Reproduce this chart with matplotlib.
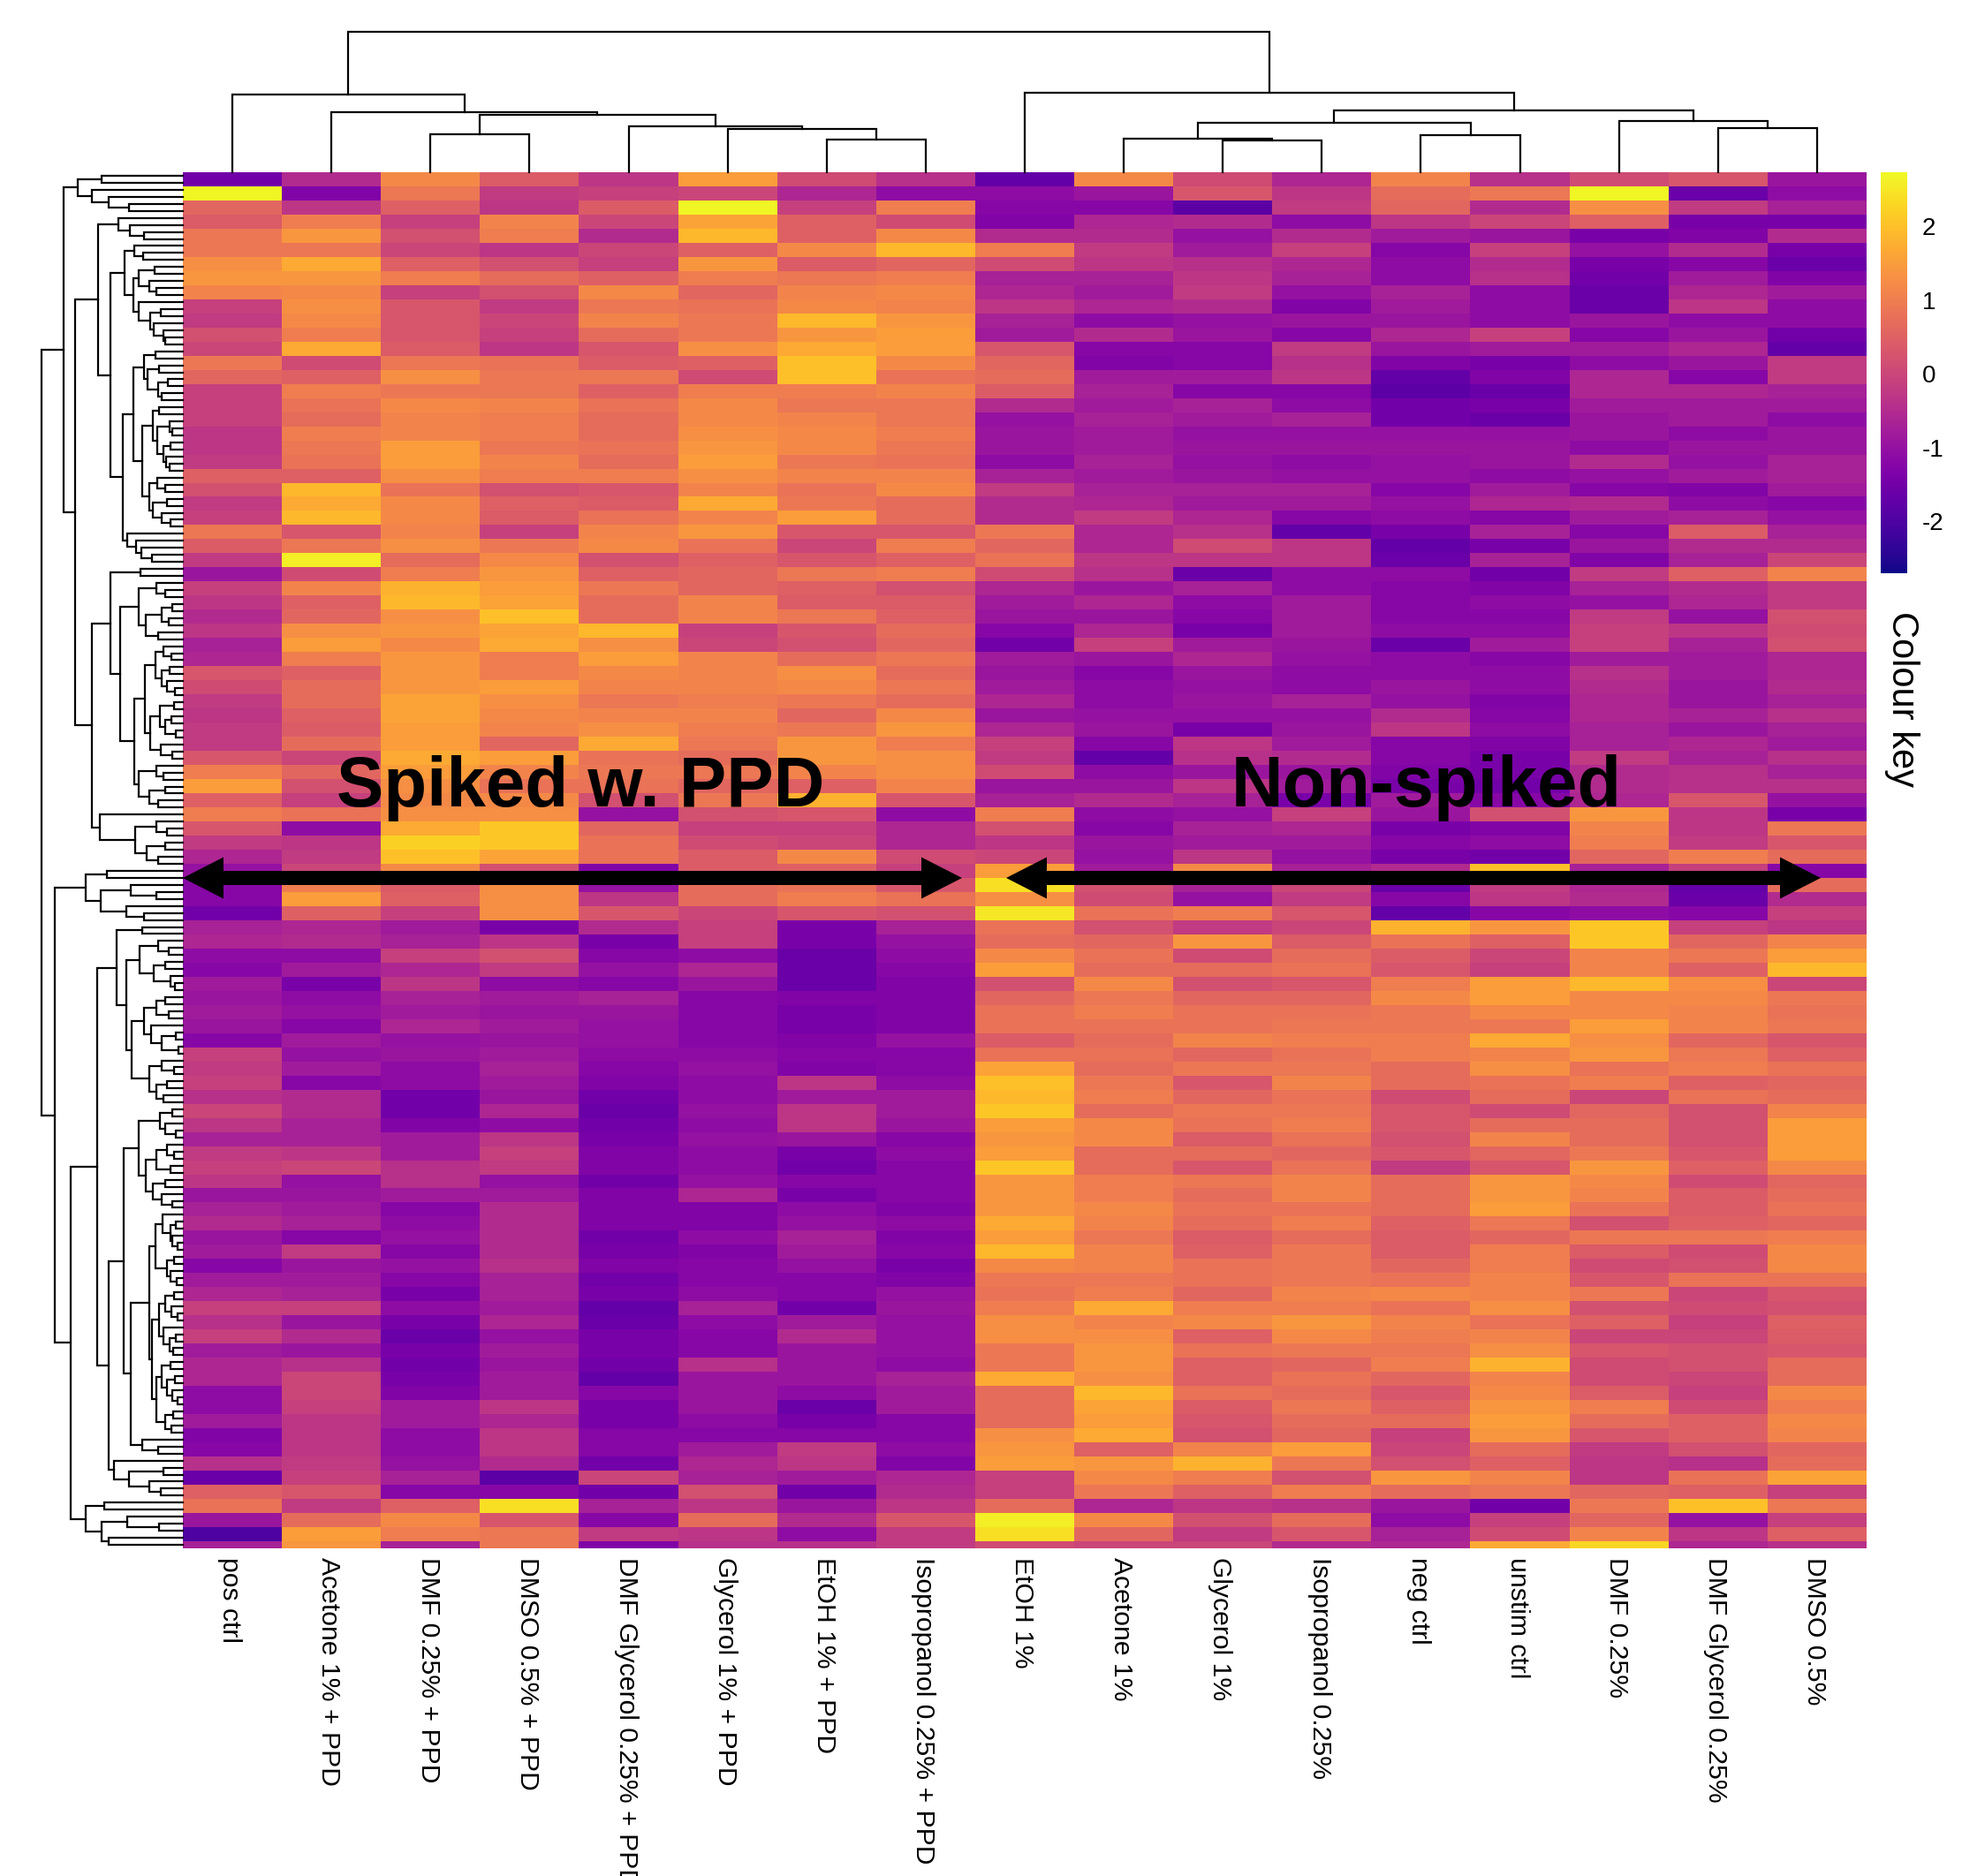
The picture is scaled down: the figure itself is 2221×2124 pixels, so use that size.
import numpy as np
import matplotlib
matplotlib.use("Agg")
import matplotlib.pyplot as plt
from matplotlib.patches import FancyArrow
from matplotlib.cm import ScalarMappable
from matplotlib.colors import Normalize

W, H = 2221, 2124
plt.rcParams['font.family'] = ['Liberation Sans', 'DejaVu Sans']

samples = ["pos ctrl", "Acetone 1% + PPD", "DMF 0.25% + PPD", "DMSO 0.5% + PPD",
           "DMF Glycerol 0.25% + PPD", "Glycerol 1% + PPD", "EtOH 1% + PPD",
           "Isopropanol 0.25% + PPD", "EtOH 1%", "Acetone 1%", "Glycerol 1%",
           "Isopropanol 0.25%", "neg ctrl", "unstim ctrl", "DMF 0.25%",
           "DMF Glycerol 0.25%", "DMSO 0.5%"]

# z-scores x10, one line is about two genes
upper_rows = [
    [-15,-5,12,4,-3,15,1,-4,-17,12,1,-6,11,-4,1,3,-9],
    [27,-13,9,-2,-1,0,-6,-11,-11,-9,3,-3,7,9,27,-16,-11],
    [6,-3,5,-3,4,27,-1,10,-12,-12,-18,-2,6,-5,13,-2,-7],
    [4,10,-1,11,0,16,5,1,-13,-6,-5,-11,-3,0,5,-14,-14],
    [9,14,2,10,-5,19,5,12,-5,-5,-10,-5,-8,-9,-14,-13,-5],
    [9,9,0,-3,0,5,12,19,10,-2,-8,-1,-12,-1,-10,-5,-14],
    [13,17,5,2,-1,14,4,6,1,-3,-4,-6,-11,-5,-14,-12,-16],
    [14,14,10,7,5,10,9,10,-7,-7,-3,-7,-11,-4,-15,-8,-13],
    [11,12,-1,2,12,6,11,12,-6,-8,-2,-10,-7,-11,-16,-6,-8],
    [-1,13,3,-2,9,8,12,11,-3,-6,-5,-13,-8,-11,-16,-3,-11],
    [-2,12,3,0,11,9,19,14,-7,-11,-10,-9,-9,-11,-9,-11,-11],
    [2,10,3,-1,7,9,14,15,-8,-5,-9,-12,-6,-1,-12,-9,-15],
    [0,17,4,-3,3,13,17,15,3,-12,-12,-2,-9,-8,-8,-6,-17],
    [9,1,9,8,4,5,20,12,6,-13,-12,-4,-13,-14,-11,-9,-2],
    [6,5,13,9,9,1,20,8,7,-8,-8,-3,-17,-13,-6,-12,-2],
    [-1,10,9,9,5,10,10,11,4,-7,-12,-12,-18,-16,-6,-6,-7],
    [-1,8,12,11,8,12,9,9,-5,-8,-7,-11,-15,-14,-8,-8,-8],
    [-1,7,11,10,7,12,11,9,-10,-7,-8,-7,-15,-16,-9,-8,-11],
    [-3,10,11,10,7,13,12,10,-9,-8,-10,-10,-10,-10,-9,-11,-9],
    [-3,9,15,9,8,14,12,9,-9,-8,-9,-9,-9,-9,-11,-9,-9],
    [-2,8,15,11,7,15,9,8,-11,-7,-10,-11,-10,-9,-5,-10,-7],
    [5,5,13,10,10,13,11,11,-7,-8,-9,-10,-10,-11,-10,-8,-7],
    [2,19,8,2,3,11,8,12,-2,-7,-7,-7,-12,-8,-12,-13,-8],
    [-2,17,12,5,4,17,9,7,-5,-6,-8,-8,-10,-6,-5,-11,-12],
    [-1,19,12,4,8,11,15,7,-5,-2,-6,-12,-11,-12,-8,-7,-10],
    [9,3,11,-1,11,14,3,3,9,-6,-4,-17,-14,-7,-12,4,-7],
    [4,9,13,9,12,8,0,10,6,-6,1,-3,-17,-14,-9,-5,-5],
    [-2,26,7,12,2,5,3,5,8,-3,-3,-3,-16,-7,-13,-7,0],
    [-9,1,10,14,5,6,9,10,1,-4,-16,-11,-11,-15,-2,5,11],
    [-1,11,18,15,9,6,5,2,-6,-9,-7,-11,-12,-13,-7,-5,-2],
    [-3,5,19,16,7,11,4,4,-8,-6,-11,-8,-12,-11,-10,-6,-2],
    [-5,6,13,20,7,11,9,5,-9,-9,-12,-8,-12,-12,-2,-10,2],
    [-3,13,14,16,19,-1,3,7,-12,-6,-14,-8,-11,-11,-1,-3,1],
    [-7,15,12,17,13,0,2,6,-15,-1,-8,-9,-16,-8,-1,-7,2],
    [-6,10,14,10,15,11,7,9,-8,-9,-6,-10,-11,-12,-8,-8,-6],
    [3,5,14,10,12,11,13,7,-9,-12,-9,-11,-11,-11,-4,-8,-6],
    [1,7,14,15,11,11,12,9,-8,-11,-10,-11,-9,-11,-5,-9,-5],
    [-2,7,16,13,9,10,9,7,-6,-11,-9,-7,-10,-13,-6,-9,-7],
    [-3,5,16,12,11,11,6,12,-9,-10,-10,-10,-5,-12,-6,-7,-4],
    [-2,4,15,11,13,10,9,14,-6,-9,-14,-9,-3,-11,-7,-9,-7],
    [-2,7,15,6,17,9,14,10,-1,-12,-3,-8,-12,-13,-7,-6,-8],
    [3,0,17,15,8,7,14,13,-2,-17,-4,-5,-12,-14,-2,-7,-4],
    [10,6,15,11,9,9,11,13,1,-11,-9,-9,-13,-14,-5,-4,-7],
    [15,2,13,8,8,6,5,11,-9,-9,-3,-8,-14,-15,-5,-4,-4],
    [5,-1,12,12,2,9,18,3,-7,-5,-7,-14,-8,-12,-6,3,-10],
    [10,8,13,13,-10,2,3,-11,10,-11,-10,-1,-9,2,14,-3,-14],
    [3,-11,17,21,6,-1,-1,-6,2,-12,-7,-6,-14,-13,11,-3,9],
    [-2,-3,22,21,8,1,0,-6,-3,-9,-8,-8,-12,-11,10,-2,3],
    [-6,-2,20,16,8,4,12,1,0,-10,-3,-10,-14,-15,6,10,7],
]
lower_rows = [
    [-10,0,12,2,-13,4,5,-1,15,-8,12,-7,-5,20,-7,-1,-12],
    [-12,10,4,13,-10,7,8,3,24,2,-7,0,-16,-2,-6,-17,7],
    [-12,15,5,13,-3,7,10,8,13,1,-10,-2,-12,-3,-5,-16,-5],
    [-15,5,-1,13,3,0,3,2,25,8,10,3,-17,-12,-11,-12,-1],
    [-7,-6,-8,-14,-5,-1,-14,-7,8,2,-2,0,18,14,21,-1,-3],
    [-6,-5,-7,-3,-14,-1,-14,-10,7,6,14,4,8,5,21,6,11],
    [-11,-11,-1,2,-12,-11,-16,-11,12,8,1,7,4,0,11,9,15],
    [-12,-8,-6,-2,-10,-6,-16,-12,15,7,7,8,3,-1,11,5,19],
    [-8,-14,-3,-11,-12,-9,-16,-13,2,12,2,3,10,15,19,13,0],
    [-9,-11,-7,-8,-7,-12,-13,-13,6,9,6,6,12,15,12,12,9],
    [-8,-10,-8,-9,-9,-12,-14,-13,8,10,8,8,9,12,12,11,8],
    [-9,-12,-6,-8,-10,-12,-14,-13,8,8,8,9,9,9,15,11,9],
    [-12,-8,-10,-9,-10,-12,-13,-10,4,7,11,10,10,17,13,6,3],
    [-1,-10,-9,-8,-11,-11,-12,-12,8,8,6,8,10,11,14,9,5],
    [-2,-8,-11,-7,-12,-10,-13,-12,16,7,9,9,7,13,8,10,8],
    [-1,-12,-11,-8,-13,-11,-3,-11,20,9,3,11,7,8,10,5,6],
    [-4,-5,-15,-9,-15,-11,-8,-8,19,10,6,8,1,7,0,8,7],
    [0,-5,-15,-6,-16,-10,-3,-8,21,7,9,9,3,1,6,2,11],
    [-3,-7,-13,-11,-15,-11,-3,-9,15,12,8,10,3,7,7,2,15],
    [-7,-7,-8,-3,-14,-10,-9,-12,14,12,4,8,2,11,7,2,15],
    [-2,-3,-8,-1,-13,-11,-14,-11,15,7,7,6,3,6,9,3,15],
    [-1,0,-4,-2,-13,-11,-15,-12,21,7,3,8,-2,3,14,5,12],
    [-3,-10,-4,-10,-15,-10,-12,-12,14,10,9,11,7,14,12,1,6],
    [-9,-9,-8,-8,-13,-6,-14,-12,14,10,7,11,7,14,11,4,7],
    [-7,-8,-12,-5,-13,-13,-11,-13,14,12,8,8,7,15,8,4,8],
    [-5,-7,-11,-5,-13,-13,-10,-11,17,11,7,10,5,9,2,5,6],
    [-9,-12,-10,-5,-15,-11,-7,-13,15,9,4,7,4,6,9,9,10],
    [-8,-2,-12,-5,-14,-13,-8,-12,19,11,5,9,4,10,4,1,12],
    [-12,-9,-10,-4,-13,-12,-10,-14,12,11,8,9,6,10,1,2,12],
    [-8,-8,-12,-7,-15,-12,-12,-13,9,9,8,9,8,11,3,8,8],
    [-6,-7,-14,-7,-14,-11,-12,-10,8,10,6,11,12,11,9,0,3],
    [-1,-1,-11,-8,-17,-7,-15,-9,10,17,10,10,8,13,2,1,2],
    [-4,-9,-14,-6,-16,-11,-8,-10,13,11,12,14,11,8,5,-1,5],
    [-1,-5,-16,-10,-14,-12,-5,-10,13,13,5,12,10,11,0,0,4],
    [-8,-9,-14,-8,-14,-12,-9,-10,9,14,8,9,9,13,3,2,3],
    [-6,-4,-15,-9,-15,-4,-9,-11,9,14,5,6,10,18,1,2,7],
    [-6,0,-14,-8,-17,-9,-9,-7,17,13,5,8,6,11,1,0,7],
    [-11,0,-13,-8,-12,-9,-11,-8,7,19,8,7,3,12,4,-1,12],
    [-11,-1,-8,-3,-14,-9,-16,-8,7,16,4,9,5,14,10,1,10],
    [-8,-3,-8,-6,-14,-11,-14,-12,7,15,3,7,7,15,7,5,12],
    [-13,-3,-11,-3,-12,-12,-12,-12,13,17,2,6,-1,14,3,5,11],
    [-12,-3,-11,-3,-12,-8,-2,-11,14,5,11,15,0,7,-2,2,6],
    [-4,-2,-10,-5,-15,-6,-3,-13,15,14,18,9,2,5,-3,-4,7],
    [-16,-1,-7,-18,0,-7,-8,-6,-1,12,10,2,14,11,-3,8,16],
    [5,3,-12,-12,-15,2,-15,-5,-1,9,5,10,7,9,6,5,-1],
    [8,-2,5,24,-7,-3,-9,-3,7,-6,-3,-4,-9,-15,9,20,9],
    [-9,7,12,3,-12,7,-5,3,26,12,2,7,-11,-1,6,-10,-1],
    [-20,15,10,9,-2,-3,-11,-2,24,6,-2,3,-7,1,11,-3,5],
    [-7,14,-7,9,-13,-4,-4,-2,1,0,0,-5,-6,17,23,-6,-4],
]
z_scores = np.array(upper_rows + lower_rows) / 10.0
tick_values = [-2, -1, 0, 1, 2]
vmin, vmax = -2.7, 2.73

# dendrograms: (height in px, first child, second child), 0 is a leaf
col_tree = (159,
            (88, 0, (68, 0, (65, (43, 0, 0), (52, 0, (49, 0, (37, 0, 0)))))),
            (90, 0, (70, (56, (38, 0, (36, 0, 0)), (42, 0, 0)), (58, 0, (50, 0, 0)))))

top_a = (119, (92, 0, 0), (103, 0, (84, 0, (61, 0, 0))))
top_b = (73, 0, (60, 0, (44, 0, 0)))
top_c = (66, (55, 0, (45, 0, 0)),
         (56, (50, (32, 0, 0), (38, 0, (30, 0, 0))),
          (50, 0, (37, (25, 0, 0), (33, 0, (22, 0, (20, 0, 0)))))))
top_d = (44, (31, 0, 0), (40, (27, 0, 0), (28, (17, 0, 0), (24, 0, 0))))
top_e = (46, (34, (27, 0, 0), (29, (15, 0, (12, 0, 0)), (22, (14, 0, 0), (19, 0, (15, 0, 0))))),
         (38, (29, 0, (20, 0, 0)), (34, (18, 0, 0), (24, 0, (14, 0, 0)))))
top_f = (63, 0, (53, 0, (47, 0, (35, 0, 0))))
mid_a = (50, (30, 0, (20, 0, 0)), (42, (24, (12, 0, 0), (16, 0, 0)), (28, 0, 0)))
mid_b = (43, (31, (22, 0, (13, 0, 0)), (24, (15, 0, 0), (18, 0, (9, 0, 0)))),
         (37, (26, (10, 0, 0), (20, (13, 0, 0), (8, 0, 0))), (25, 0, (12, 0, 0))))
mid_c = (50, (30, 0, (22, 0, 0)), (38, (20, 0, 0), (28, 0, 0)))
mid_d = (94, 0, (54, (30, 0, (18, 0, 0)), (41, (20, 0, 0), (28, 0, 0))))
low_a = (110, (86, 0, 0), (93, (59, 0, (30, 0, 0)), (64, 0, (44, 0, 0))))
low_b = (75, (46, 0, 0),
         (64, (49, (28, 0, (16, 0, 0)), (33, (20, 0, 0), (14, 0, (9, 0, 0)))),
          (58, (44, (30, (20, 0, 0), (16, 0, 0)), (36, 0, (24, (8, 0, 0), (5, 0, 0)))),
           (38, (24, 0, (10, 0, 0)), (30, (18, 0, 0), (22, 0, 0))))))
low_c = (50, (26, (12, 0, 0), (20, 0, (8, 0, 0))),
         (42, (30, (18, 0, (10, 0, 0)), (14, 0, 0)), (34, (20, 0, 0), (24, 0, (12, 0, 0)))))
low_d = (38, (31, (23, 0, (14, (8, 0, 0), (12, 0, (6, 0, 0)))), (18, (10, 0, 0), (14, 0, (7, 0, 0)))),
         (35, (27, (20, (10, 0, 0), (13, 0, (6, 0, 0))), (22, 0, (15, (8, 0, 0), (11, 0, 0)))),
          (30, (24, (14, 0, 0), (18, (9, 0, 0), (12, 0, (6, 0, 0)))), (20, (11, 0, 0), (13, 0, 0)))))
low_e = (46, 0, (28, 0, 0))
low_f = (78, 0, (61, (22, 0, 0), (38, 0, (25, 0, 0))))
low_g = (110, (89, 0, 0), (92, (63, 0, (27, 0, 0)), (84, 0, 0)))

row_tree = (160,
            (135, top_a,
             (122, (96, top_b, (82, top_c, (68, (56, top_d, top_e), top_f))),
              (103, (82, (48, 0, 0), (71, mid_a, (55, mid_b, mid_c))), mid_d))),
            (145, low_a,
             (127, (97, low_b, (84, (67, low_c, (59, low_d, low_e)), low_f)), low_g)))


def count_leaves(node):
    if node == 0:
        return 1
    return count_leaves(node[1]) + count_leaves(node[2])


def draw_tree(ax, node, horizontal, state):
    # returns position and height of the node, leaves are placed in order
    if node == 0:
        state[0] += 1
        return state[0] - 0.5, 0
    h = node[0]
    p1, h1 = draw_tree(ax, node[1], horizontal, state)
    p2, h2 = draw_tree(ax, node[2], horizontal, state)
    px = [p1, p1, p2, p2]
    hs = [h1, h, h, h2]
    if horizontal:
        ax.plot(px, hs, color='black', lw=1.6, solid_joinstyle='miter', clip_on=False)
    else:
        ax.plot(hs, px, color='black', lw=1.6, solid_joinstyle='miter', clip_on=False)
    return (p1 + p2) / 2, h


def box(x0, y0, x1, y1):
    return [x0 / W, 1 - y1 / H, (x1 - x0) / W, (y1 - y0) / H]


fig = plt.figure(figsize=(W / 100, H / 100), dpi=100, facecolor='white')

left, right, top, bottom = 207, 2113, 195, 1753
ax = fig.add_axes(box(left, top, right, bottom))
ax.imshow(z_scores, cmap='plasma', vmin=vmin, vmax=vmax, aspect='auto', interpolation='nearest')
# the last line is only one gene high
ax.set_ylim(len(z_scores) - 1, -0.5)
ax.set_yticks([])
ax.set_xticks([])
for s in ax.spines.values():
    s.set_visible(False)

for i, name in enumerate(samples):
    ax.annotate(name, xy=(i, 0), xycoords=('data', 'axes fraction'), xytext=(-2, -7),
                textcoords='offset points', rotation=270, ha='center', va='top',
                fontsize=21.7, annotation_clip=False)

# column dendrogram
ax_top = fig.add_axes(box(left, 0, right, top))
draw_tree(ax_top, col_tree, True, [0])
ax_top.set_xlim(0, len(samples))
ax_top.set_ylim(0, top)
ax_top.axis('off')

# row dendrogram
ax_left = fig.add_axes(box(0, top, left, bottom))
draw_tree(ax_left, row_tree, False, [0])
ax_left.set_xlim(left, 0)
ax_left.set_ylim(count_leaves(row_tree), 0)
ax_left.axis('off')

# colour key
cax = fig.add_axes(box(2129, top, 2159, 649))
cb = fig.colorbar(ScalarMappable(Normalize(vmin, vmax), 'plasma'), cax=cax)
cb.outline.set_visible(False)
cb.set_ticks(tick_values, labels=[str(t) for t in tick_values])
cb.ax.tick_params(length=0, labelsize=20, pad=12)

# overlay in pixels for the annotations
over = fig.add_axes([0, 0, 1, 1])
over.set_xlim(0, W)
over.set_ylim(H, 0)
over.axis('off')
over.patch.set_alpha(0)
over.text(2153, 791, "Colour key", rotation=270, ha='center', va='center', fontsize=30)
over.text(657, 892, "Spiked w. PPD", ha='center', va='center', fontsize=57.5, weight='bold')
over.text(1615, 892, "Non-spiked", ha='center', va='center', fontsize=58.5, weight='bold')

arrow_y = 994
for x0, x1 in [(207, 1089), (1139, 2061)]:
    mid = (x0 + x1) / 2
    for end in (x0, x1):
        over.add_patch(FancyArrow(mid, arrow_y, end - mid, 0, width=16, head_width=47,
                                  head_length=46, length_includes_head=True,
                                  color='black', lw=0))

fig.savefig('out.png', dpi=100)
